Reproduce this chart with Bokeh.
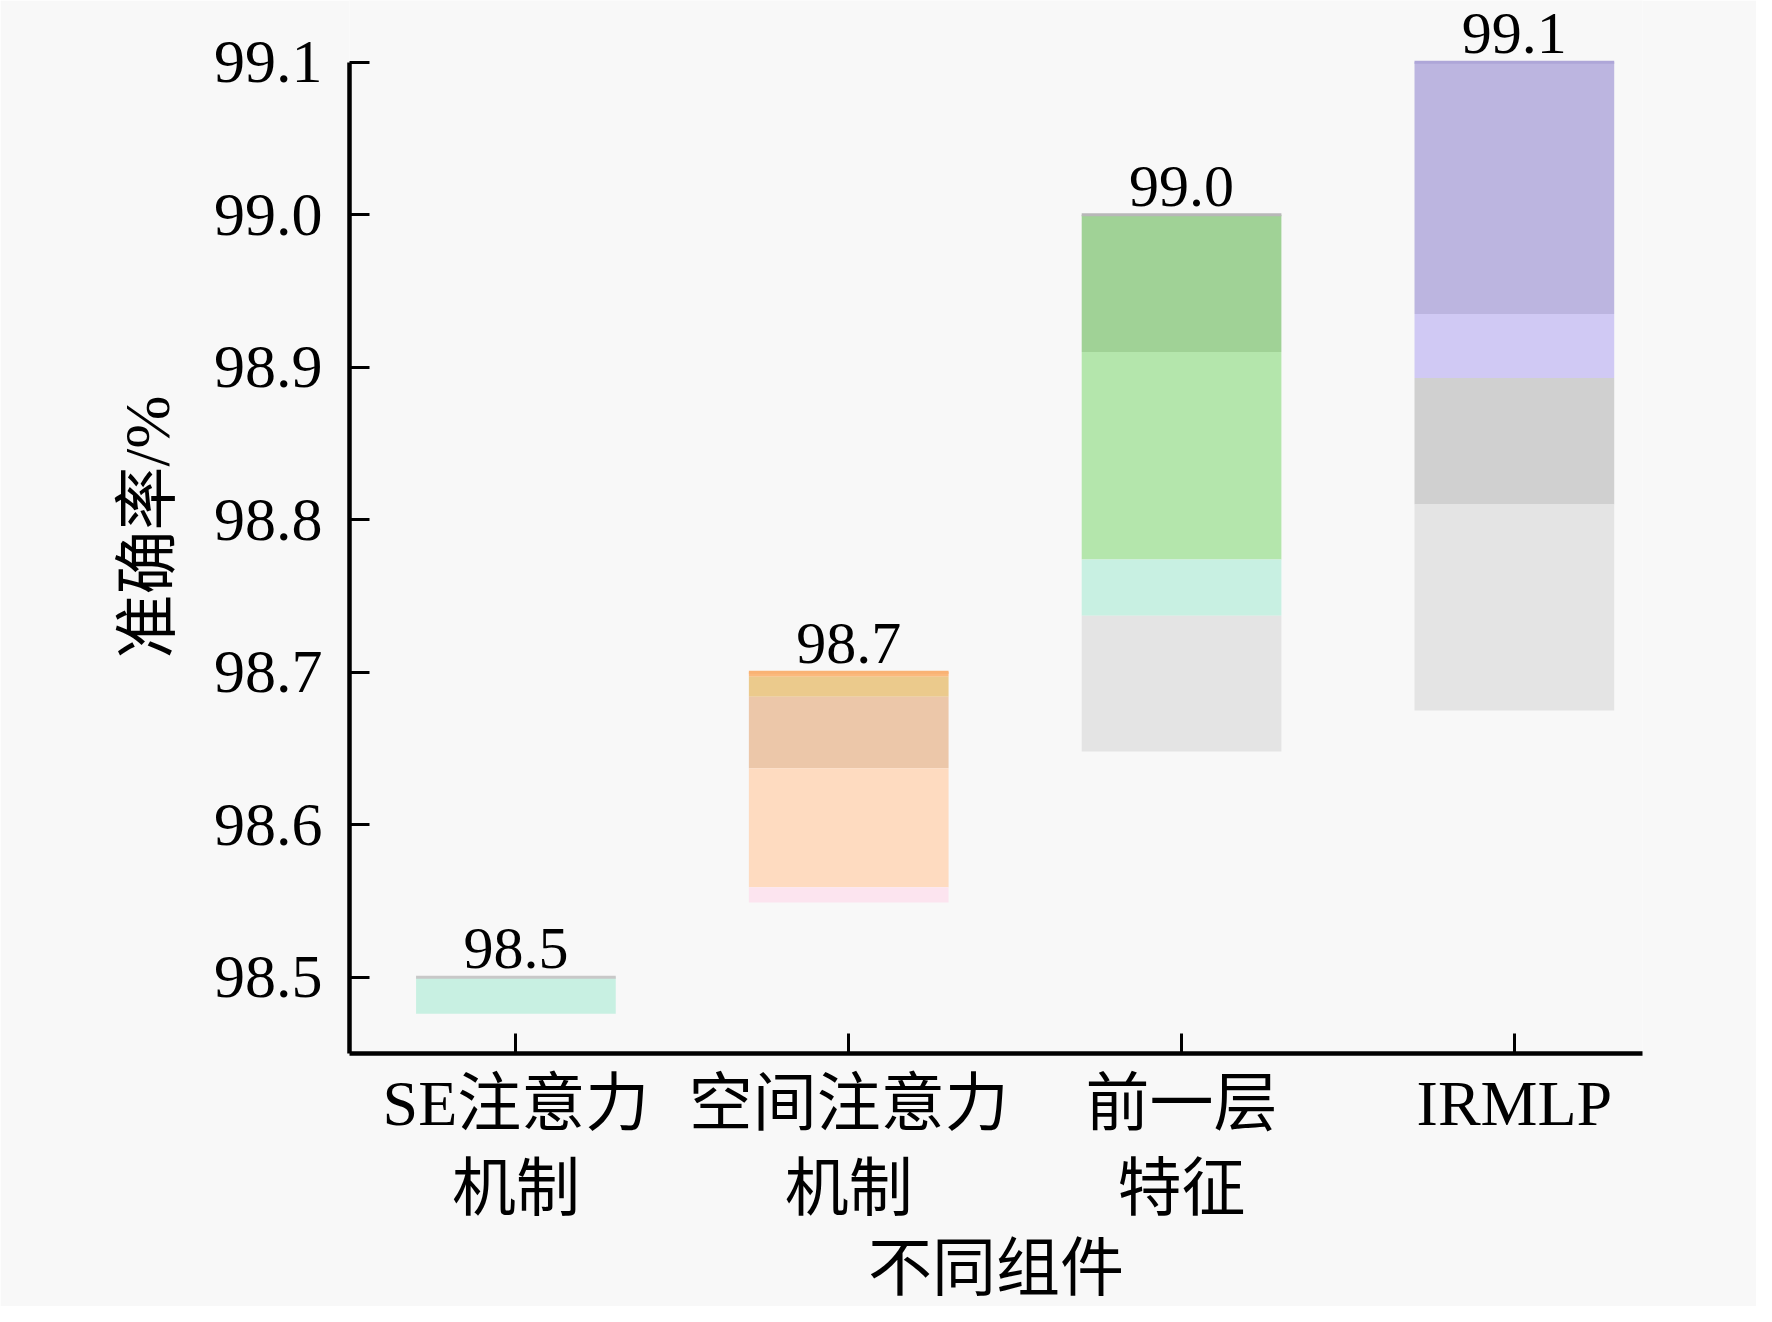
from bokeh.plotting import figure
from bokeh.models import Range1d, FixedTicker, NumeralTickFormatter, ColumnDataSource, LabelSet
from bokeh.core.properties import value
from bokeh.embed import file_html
from bokeh.resources import INLINE

# ---- data ----
categories = ["SE注意力\n机制", "空间注意力\n机制", "前一层\n特征", "IRMLP"]
accuracy = [98.5, 98.7, 99.0, 99.1]
value_labels = ["98.5", "98.7", "99.0", "99.1"]
y_ticks = [98.5, 98.6, 98.7, 98.8, 98.9, 99.0, 99.1]
top_edge_color = ["#c8c8c8", "#f9b274", "#b8b8b8", "#aea6d8"]

# layered shading inside each bar: bar index, segment top, segment bottom, colour
seg_bar = [0, 1, 1, 1, 1, 1, 2, 2, 2, 2, 3, 3, 3, 3]
seg_top = [98.500, 98.700, 98.697, 98.684, 98.637, 98.559,
           99.000, 98.910, 98.774, 98.737,
           99.100, 98.935, 98.893, 98.810]
seg_bottom = [98.476, 98.697, 98.684, 98.637, 98.559, 98.549,
              98.910, 98.774, 98.737, 98.648,
              98.935, 98.893, 98.810, 98.675]
seg_color = ["#c8f0e2", "#fbb97c", "#ebca8c", "#ecc7a9", "#fedbc0", "#fce4ef",
             "#a0d296", "#b4e6ac", "#c8f0e2", "#e4e4e4",
             "#bcb5e0", "#d0c9f4", "#d0d0d0", "#e4e4e4"]

FONT = "Liberation Serif, Noto Sans CJK SC"
BG = "#f8f8f8"

xs = [i + 0.5 for i in range(len(categories))]
seg_x = [xs[i] for i in seg_bar]

p = figure(width=1756, height=1306,
           x_range=Range1d(0, 3.885), y_range=Range1d(98.45, 99.1405),
           output_backend="svg", toolbar_location=None,
           min_border_left=349, min_border_right=114,
           min_border_top=0, min_border_bottom=248,
           background_fill_color=BG, border_fill_color=BG,
           outline_line_color=None)

p.vbar(x=seg_x, top=seg_top, bottom=seg_bottom, width=0.6,
       fill_color=seg_color, line_color=None)
p.rect(x=xs, y=accuracy, width=0.6, height=3, height_units="screen",
       fill_color=top_edge_color, line_color=None)

lab_src = ColumnDataSource(dict(x=xs, y=accuracy, text=value_labels))
p.add_layout(LabelSet(x="x", y="y", text="text", source=lab_src,
                      text_align="center", text_baseline="alphabetic",
                      y_offset=9, text_font=value(FONT),
                      text_font_size=value("60px"), text_color="black"))

p.xaxis.ticker = FixedTicker(ticks=xs)
p.xaxis.major_label_overrides = {x: c for x, c in zip(xs, categories)}
p.yaxis.ticker = FixedTicker(ticks=y_ticks)
p.yaxis.formatter = NumeralTickFormatter(format="0.0")
p.yaxis.bounds = (98.45, 99.1)
p.xaxis.axis_label = "不同组件"
p.yaxis.axis_label = "准确率/%"

for ax in (p.xaxis[0], p.yaxis[0]):
    ax.axis_line_color = "black"
    ax.axis_line_width = 4.5
    ax.major_tick_line_color = "black"
    ax.major_tick_line_width = 3
    ax.major_tick_in = 20
    ax.major_tick_out = 0
    ax.minor_tick_in = 0
    ax.minor_tick_out = 0
    ax.major_label_text_font = FONT
    ax.major_label_text_color = "black"
    ax.axis_label_text_font = FONT
    ax.axis_label_text_font_style = "normal"
    ax.axis_label_text_color = "black"
    ax.axis_label_text_font_size = "64px"

p.xaxis.major_label_text_font_size = "64px"
p.yaxis.major_label_text_font_size = "62px"
p.xaxis.major_label_standoff = 14
p.yaxis.major_label_standoff = 27
p.xaxis.axis_label_standoff = 6
p.yaxis.axis_label_standoff = 28

p.xgrid.visible = False
p.ygrid.visible = False

open("out.html", "w").write(file_html(p, INLINE))
